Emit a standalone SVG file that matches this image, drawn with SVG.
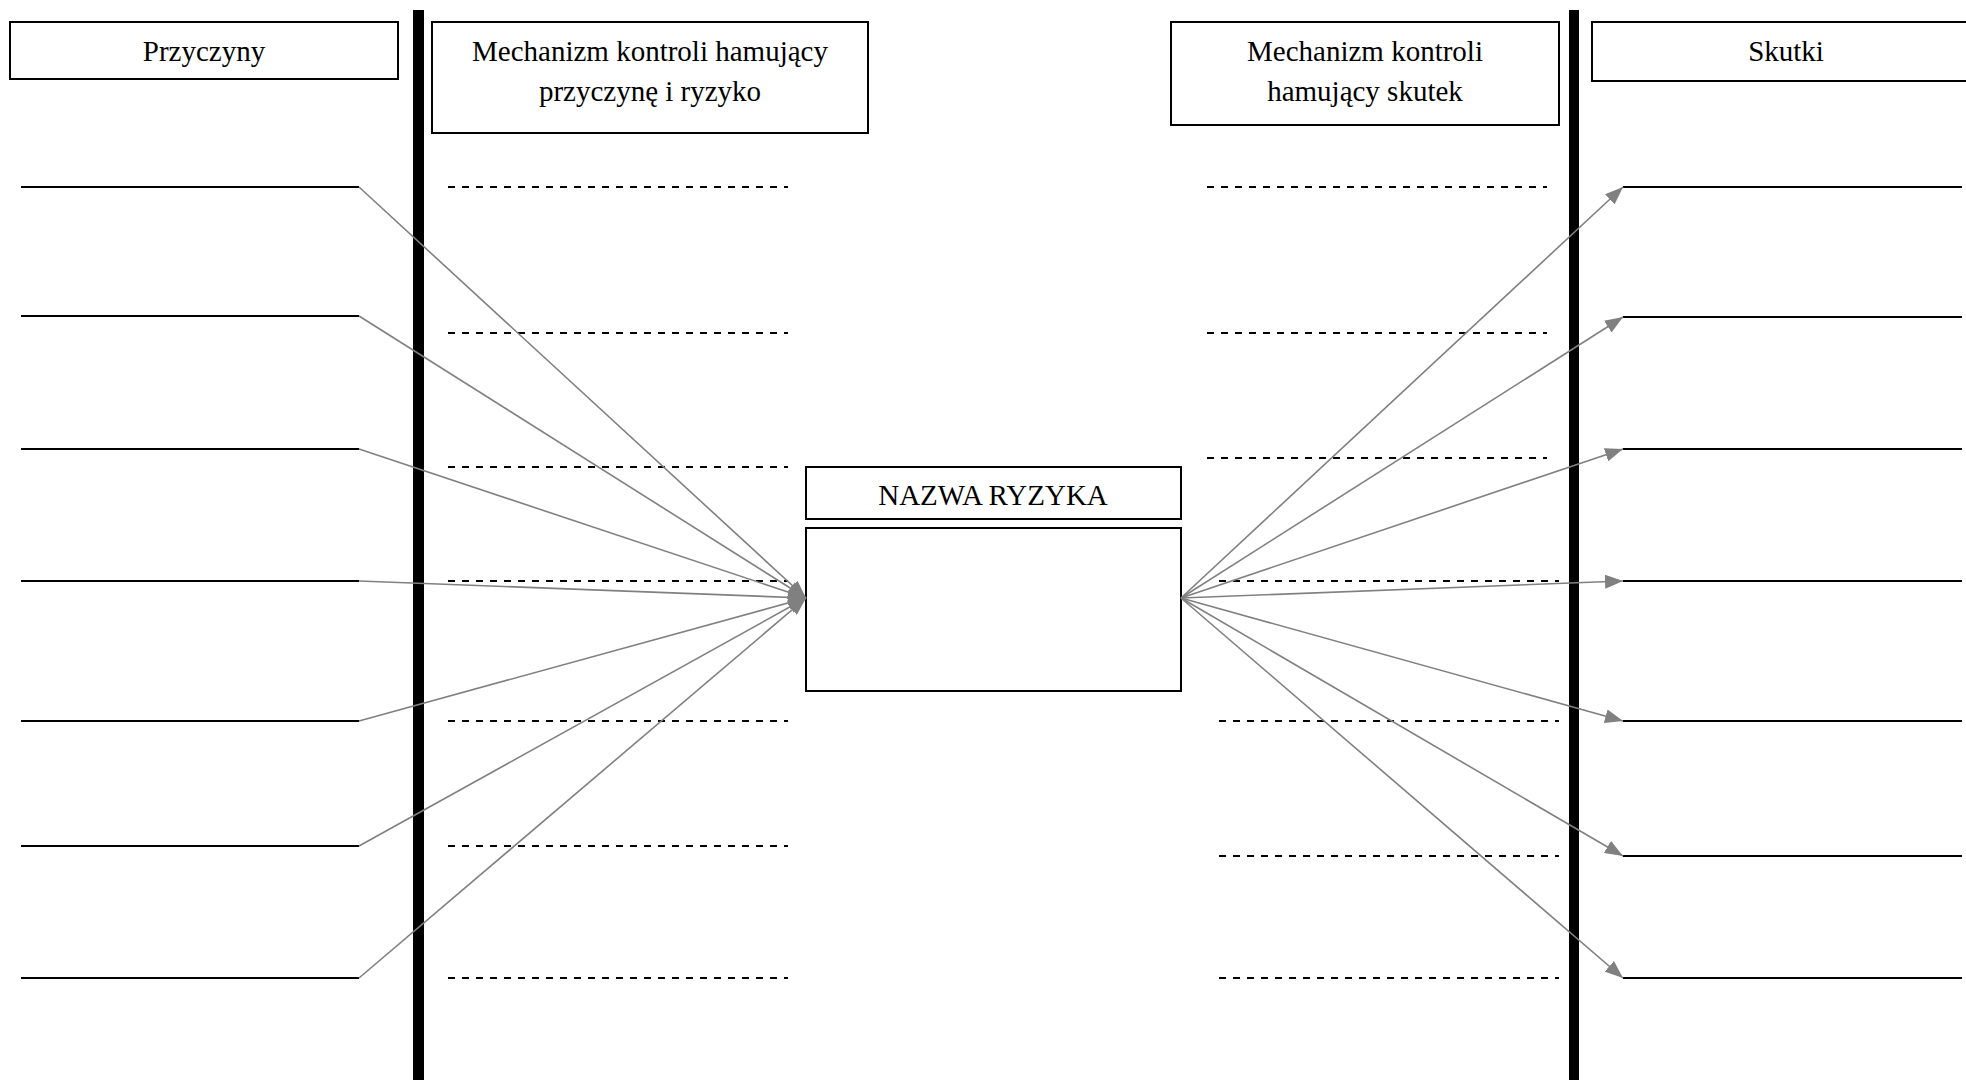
<svg xmlns="http://www.w3.org/2000/svg" width="1966" height="1080" viewBox="0 0 1966 1080">
<style>
  .box { fill: #fff; stroke: #000; stroke-width: 2; }
  .lbl { font-family: "Liberation Serif", "Times New Roman", serif; font-size: 29px; fill: #000; text-anchor: middle; }
  .bar { fill: #000; }
  .slot { stroke: #000; stroke-width: 2; fill: none; }
  .dash { stroke: #000; stroke-width: 2; stroke-dasharray: 7 7; fill: none; }
  .conn { stroke: #808080; stroke-width: 1.6; fill: none; marker-end: url(#arr); }
</style>
<defs>
  <marker id="arr" markerUnits="userSpaceOnUse" markerWidth="18" markerHeight="14" refX="18" refY="7" orient="auto">
    <path d="M0,0 L18,7 L0,14 z" fill="#808080"/>
  </marker>
</defs>
<rect width="1966" height="1080" fill="#fff"/>

<g id="dividers">
  <rect class="bar" x="413" y="10" width="11" height="1070"/>
  <rect class="bar" x="1569" y="10" width="10" height="1070"/>
</g>

<g id="header-przyczyny">
  <rect class="box" x="10" y="22" width="388" height="57"/>
  <text class="lbl" x="204" y="61">Przyczyny</text>
</g>
<g id="header-mech-przyczyna">
  <rect class="box" x="432" y="22" width="436" height="111"/>
  <text class="lbl" x="650" y="61">Mechanizm kontroli hamujący</text>
  <text class="lbl" x="650" y="101">przyczynę i ryzyko</text>
</g>
<g id="header-mech-skutek">
  <rect class="box" x="1171" y="22" width="388" height="103"/>
  <text class="lbl" x="1365" y="61">Mechanizm kontroli</text>
  <text class="lbl" x="1365" y="101">hamujący skutek</text>
</g>
<g id="header-skutki">
  <rect class="box" x="1592" y="22" width="390" height="59"/>
  <text class="lbl" x="1786" y="61">Skutki</text>
</g>

<g id="risk-name">
  <rect class="box" x="806" y="467" width="375" height="52"/>
  <text class="lbl" x="993" y="505">NAZWA RYZYKA</text>
</g>
<g id="risk-box">
  <rect class="box" x="806" y="528" width="375" height="163"/>
</g>

<g id="causes">
  <line class="slot" x1="21" y1="187" x2="359" y2="187"/>
  <line class="slot" x1="21" y1="316" x2="359" y2="316"/>
  <line class="slot" x1="21" y1="449" x2="359" y2="449"/>
  <line class="slot" x1="21" y1="581" x2="359" y2="581"/>
  <line class="slot" x1="21" y1="721" x2="359" y2="721"/>
  <line class="slot" x1="21" y1="846" x2="359" y2="846"/>
  <line class="slot" x1="21" y1="978" x2="359" y2="978"/>
</g>

<g id="cause-controls">
  <line class="dash" x1="448" y1="187" x2="788" y2="187"/>
  <line class="dash" x1="448" y1="333" x2="788" y2="333"/>
  <line class="dash" x1="448" y1="467" x2="788" y2="467"/>
  <line class="dash" x1="448" y1="581" x2="788" y2="581"/>
  <line class="dash" x1="448" y1="721" x2="788" y2="721"/>
  <line class="dash" x1="448" y1="846" x2="788" y2="846"/>
  <line class="dash" x1="448" y1="978" x2="788" y2="978"/>
</g>

<g id="effect-controls">
  <line class="dash" x1="1207" y1="187" x2="1547" y2="187"/>
  <line class="dash" x1="1207" y1="333" x2="1547" y2="333"/>
  <line class="dash" x1="1207" y1="458" x2="1547" y2="458"/>
  <line class="dash" x1="1219" y1="581" x2="1559" y2="581"/>
  <line class="dash" x1="1219" y1="721" x2="1559" y2="721"/>
  <line class="dash" x1="1219" y1="856" x2="1559" y2="856"/>
  <line class="dash" x1="1219" y1="978" x2="1559" y2="978"/>
</g>

<g id="effects">
  <line class="slot" x1="1623" y1="187" x2="1962" y2="187"/>
  <line class="slot" x1="1623" y1="317" x2="1962" y2="317"/>
  <line class="slot" x1="1623" y1="449" x2="1962" y2="449"/>
  <line class="slot" x1="1623" y1="581" x2="1962" y2="581"/>
  <line class="slot" x1="1623" y1="721" x2="1962" y2="721"/>
  <line class="slot" x1="1623" y1="856" x2="1962" y2="856"/>
  <line class="slot" x1="1623" y1="978" x2="1962" y2="978"/>
</g>

<g id="connectors">
  <line class="conn" x1="359" y1="187" x2="806" y2="598"/>
  <line class="conn" x1="359" y1="316" x2="806" y2="598"/>
  <line class="conn" x1="359" y1="449" x2="806" y2="598"/>
  <line class="conn" x1="359" y1="581" x2="806" y2="598"/>
  <line class="conn" x1="359" y1="721" x2="806" y2="598"/>
  <line class="conn" x1="359" y1="846" x2="806" y2="598"/>
  <line class="conn" x1="359" y1="978" x2="806" y2="598"/>
  <line class="conn" x1="1181" y1="598" x2="1623" y2="187"/>
  <line class="conn" x1="1181" y1="598" x2="1623" y2="317"/>
  <line class="conn" x1="1181" y1="598" x2="1623" y2="449"/>
  <line class="conn" x1="1181" y1="598" x2="1623" y2="581"/>
  <line class="conn" x1="1181" y1="598" x2="1623" y2="721"/>
  <line class="conn" x1="1181" y1="598" x2="1623" y2="856"/>
  <line class="conn" x1="1181" y1="598" x2="1623" y2="978"/>
</g>
</svg>
